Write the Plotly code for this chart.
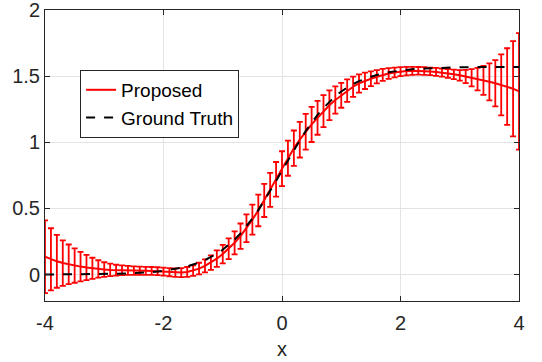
import plotly.graph_objects as go

x_vals = [round(-4 + 0.1 * i, 1) for i in range(81)]

proposed_mean = [
    0.135, 0.115, 0.100, 0.087, 0.077, 0.068, 0.060, 0.053, 0.047, 0.042,
    0.038, 0.035, 0.033, 0.032, 0.031, 0.030, 0.029, 0.028, 0.027, 0.025,
    0.022, 0.018, 0.015, 0.015, 0.020, 0.030, 0.045, 0.065, 0.090, 0.120,
    0.155, 0.195, 0.240, 0.290, 0.350, 0.415, 0.485, 0.560, 0.640, 0.720,
    0.800, 0.880, 0.955, 1.020, 1.080, 1.135, 1.185, 1.235, 1.280, 1.320,
    1.355, 1.390, 1.420, 1.445, 1.465, 1.480, 1.495, 1.510, 1.520, 1.528,
    1.534, 1.538, 1.540, 1.540, 1.539, 1.536, 1.532, 1.527, 1.521, 1.514,
    1.506, 1.497, 1.488, 1.478, 1.468, 1.457, 1.446, 1.434, 1.421, 1.405,
    1.385,
]

proposed_err = [
    0.275, 0.235, 0.200, 0.172, 0.150, 0.130, 0.112, 0.095, 0.080, 0.066,
    0.055, 0.047, 0.041, 0.037, 0.034, 0.032, 0.031, 0.030, 0.030, 0.030,
    0.030, 0.031, 0.032, 0.034, 0.037, 0.040, 0.044, 0.049, 0.055, 0.062,
    0.070, 0.078, 0.087, 0.096, 0.105, 0.113, 0.120, 0.125, 0.129, 0.131,
    0.132, 0.133, 0.134, 0.135, 0.135, 0.133, 0.128, 0.121, 0.112, 0.103,
    0.094, 0.085, 0.077, 0.069, 0.062, 0.056, 0.050, 0.045, 0.041, 0.037,
    0.034, 0.032, 0.030, 0.029, 0.029, 0.029, 0.030, 0.031, 0.033, 0.036,
    0.040, 0.050, 0.065, 0.085, 0.110, 0.140, 0.175, 0.230, 0.290, 0.360,
    0.440,
]

gt_x = [-4.0, -3.5, -3.0, -2.8, -2.6, -2.4, -2.2, -2.0, -1.9, -1.8, -1.7, -1.6,
        -1.5, -1.4, -1.3, -1.2, -1.1, -1.0, -0.9, -0.8, -0.7, -0.6, -0.5, -0.4,
        -0.3, -0.2, -0.1, 0.0, 0.1, 0.2, 0.3, 0.4, 0.5, 0.6, 0.7, 0.8, 0.9, 1.0,
        1.1, 1.2, 1.3, 1.4, 1.5, 1.6, 1.7, 1.8, 1.9, 2.0, 2.2, 2.4, 2.6, 2.8,
        3.0, 3.5, 4.0]
gt_y = [0.000, 0.001, 0.004, 0.006, 0.009, 0.013, 0.019, 0.028, 0.035, 0.042,
        0.051, 0.062, 0.075, 0.090, 0.109, 0.131, 0.157, 0.187, 0.223, 0.264,
        0.311, 0.364, 0.423, 0.487, 0.557, 0.631, 0.707, 0.785, 0.864, 0.940,
        1.014, 1.084, 1.148, 1.207, 1.260, 1.307, 1.348, 1.384, 1.414, 1.440,
        1.462, 1.481, 1.496, 1.509, 1.520, 1.529, 1.536, 1.542, 1.552, 1.558,
        1.562, 1.565, 1.567, 1.569, 1.570]

x_ticks = [-4, -2, 0, 2, 4]
x_ticktext = ["-4", "-2", "0", "2", "4"]
y_ticks = [0, 0.5, 1, 1.5, 2]
y_ticktext = ["0", "0.5", "1", "1.5", "2"]

FONT = "Liberation Sans, Arial, Helvetica, sans-serif"

fig = go.Figure()
fig.add_trace(go.Scatter(
    x=x_vals, y=proposed_mean, mode="lines", name="Proposed",
    line=dict(color="#ff0000", width=2),
    error_y=dict(type="data", array=proposed_err, visible=True,
                 color="#ff0000", thickness=1.8, width=3),
))
fig.add_trace(go.Scatter(
    x=gt_x, y=gt_y, mode="lines", name="Ground Truth",
    line=dict(color="#000000", width=2, dash="dash"),
))

axis_common = dict(
    showline=True, linecolor="#262626", linewidth=1, mirror="ticks",
    ticks="inside", ticklen=5, tickcolor="#262626",
    showgrid=True, gridcolor="#e3e3e3", gridwidth=1, zeroline=False,
    automargin=False, ticklabeloverflow="allow",
    tickfont=dict(family=FONT, size=20, color="#262626"),
)

fig.update_layout(
    width=542, height=362,
    margin=dict(l=45, r=23, t=10, b=61, autoexpand=False),
    paper_bgcolor="white", plot_bgcolor="white",
    font=dict(family=FONT, size=19, color="#262626"),
    showlegend=True,
    legend=dict(
        x=0.074, y=0.794, xanchor="left", yanchor="top",
        bgcolor="white", bordercolor="#262626", borderwidth=1,
        font=dict(family=FONT, size=19, color="#000000"),
        tracegroupgap=0, itemwidth=30,
    ),
    xaxis=dict(range=[-4, 4], tickvals=x_ticks, ticktext=x_ticktext,
               ticklabelstandoff=4,
               title=dict(text="x", font=dict(family=FONT, size=20, color="#262626"),
                          standoff=8),
               **axis_common),
    yaxis=dict(range=[-0.2, 2.0001], tickvals=y_ticks, ticktext=y_ticktext,
               **axis_common),
)

fig.write_html("out.html",
               config={"displayModeBar": False},
               post_script="document.body.style.margin='0px';document.body.style.padding='0px';")
